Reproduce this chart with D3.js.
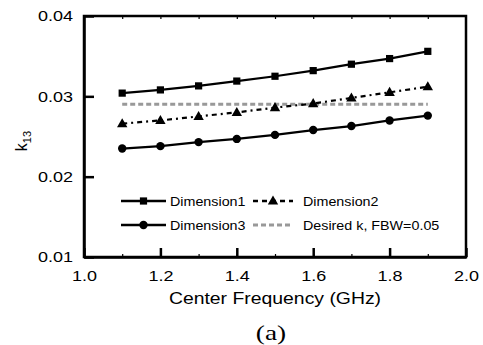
<!DOCTYPE html>
<html>
<head>
<meta charset="utf-8">
<script src="https://cdn.jsdelivr.net/npm/d3@7"></script>
<style>
  body { margin: 0; background: #fff; }
  svg { display: block; }
  text { font-family: "Liberation Sans", Arial, sans-serif; fill: #000; }
</style>
</head>
<body>
<div id="chart"></div>
<script>
// data
var freqs = [1.1, 1.2, 1.3, 1.4, 1.5, 1.6, 1.7, 1.8, 1.9];
var dim1 = [0.0304, 0.0308, 0.0313, 0.0319, 0.0325, 0.0332, 0.0340, 0.0347, 0.0356];
var dim2 = [0.0266, 0.0270, 0.0275, 0.0280, 0.0286, 0.0291, 0.0298, 0.0305, 0.0312];
var dim3 = [0.0235, 0.0238, 0.0243, 0.0247, 0.0252, 0.0258, 0.0263, 0.0270, 0.0276];
var desiredK = 0.029;
var desiredRange = [1.1, 1.9];
var xTicks = [1.0, 1.2, 1.4, 1.6, 1.8, 2.0];
var xMinor = [1.1, 1.2, 1.3, 1.4, 1.5, 1.6, 1.7, 1.8, 1.9];
var yTicks = [0.01, 0.02, 0.03, 0.04];

var series = [
  {name: "Dimension1", values: dim1, marker: "square", dash: null},
  {name: "Dimension2", values: dim2, marker: "triangle", dash: "5,4,2,4"},
  {name: "Dimension3", values: dim3, marker: "circle", dash: null}
];

var FONT = "'Liberation Sans', Arial, sans-serif";

var margin = {top: 16, right: 17, bottom: 88, left: 84};
var width = 483 - margin.left - margin.right;
var height = 345 - margin.top - margin.bottom;

var svg = d3.select("#chart").append("svg")
    .attr("width", 483)
    .attr("height", 345);

var g = svg.append("g")
    .attr("transform", "translate(" + margin.left + "," + margin.top + ")");

var x = d3.scaleLinear().domain([1.0, 2.0]).range([0, width]);
var y = d3.scaleLinear().domain([0.01, 0.04]).range([height, 0]);

// horizontally widen text a bit, the reference glyphs are stretched
function stretch(sel, k) {
  sel.each(function() {
    var w = this.getComputedTextLength();
    d3.select(this).attr("textLength", w * k).attr("lengthAdjust", "spacingAndGlyphs");
  });
}

// minor ticks top and bottom
g.append("g")
    .call(d3.axisTop(x).tickValues(xMinor).tickSize(-3).tickFormat(""))
    .call(function(a) { a.select(".domain").remove(); })
    .selectAll("line").attr("stroke-width", 1.2);

g.append("g")
    .attr("transform", "translate(0," + height + ")")
    .call(d3.axisBottom(x).tickValues(xMinor).tickSize(-3).tickFormat(""))
    .call(function(a) { a.select(".domain").remove(); })
    .selectAll("line").attr("stroke-width", 1.2);

// frame
g.append("rect")
    .attr("width", width)
    .attr("height", height)
    .attr("fill", "none")
    .attr("stroke", "#000")
    .attr("stroke-width", 2.5);

var xAxis = g.append("g")
    .attr("transform", "translate(0," + height + ")")
    .call(d3.axisBottom(x).tickValues(xTicks).tickSizeInner(-9).tickSizeOuter(0).tickPadding(13)
      .tickFormat(d3.format(".1f")));

var yAxis = g.append("g")
    .call(d3.axisLeft(y).tickValues(yTicks).tickSizeInner(-10).tickSizeOuter(0).tickPadding(11)
      .tickFormat(d3.format(".2f")));

[xAxis, yAxis].forEach(function(a) {
  a.attr("font-family", FONT);
  a.select(".domain").attr("stroke-width", 2.5);
  a.selectAll(".tick line").attr("stroke-width", 2.5);
  a.selectAll(".tick text")
      .style("font-family", FONT)
      .style("font-size", "15.5px")
      .attr("fill", "#000")
      .call(stretch, 1.16);
});

// desired k line
g.append("line")
    .attr("x1", x(desiredRange[0]))
    .attr("x2", x(desiredRange[1]))
    .attr("y1", y(desiredK))
    .attr("y2", y(desiredK))
    .attr("stroke", "#999")
    .attr("stroke-width", 3)
    .attr("stroke-dasharray", "5,3");

var line = d3.line()
    .x(function(d, i) { return x(freqs[i]); })
    .y(function(d) { return y(d); });

function drawMarker(sel, type, cx, cy) {
  if (type == "square") {
    sel.append("rect")
        .attr("x", cx - 3.6).attr("y", cy - 3.6)
        .attr("width", 7.2).attr("height", 7.2)
        .attr("fill", "#000");
  }
  else if (type == "circle") {
    sel.append("circle")
        .attr("cx", cx).attr("cy", cy).attr("r", 4.2)
        .attr("fill", "#000");
  }
  else {
    sel.append("path")
        .attr("d", "M" + cx + "," + (cy - 5.5) + "L" + (cx + 5.2) + "," + (cy + 3.6) + "L" + (cx - 5.2) + "," + (cy + 3.6) + "Z")
        .attr("fill", "#000");
  }
}

series.forEach(function(s) {
  g.append("path")
      .datum(s.values)
      .attr("d", line)
      .attr("fill", "none")
      .attr("stroke", "#000")
      .attr("stroke-width", 2.2)
      .attr("stroke-dasharray", s.dash);
  var mg = g.append("g");
  s.values.forEach(function(v, i) {
    drawMarker(mg, s.marker, x(freqs[i]), y(v));
  });
});

// legend
var legendItems = [
  {label: "Dimension1", marker: "square", dash: null, color: "#000", x0: 37, x1: 82, tx: 86, row: 0},
  {label: "Dimension2", marker: "triangle", dash: "5,4", color: "#000", x0: 169, x1: 209, tx: 219, row: 0},
  {label: "Dimension3", marker: "circle", dash: null, color: "#000", x0: 37, x1: 82, tx: 86, row: 1},
  {label: "Desired k, FBW=0.05", marker: null, dash: "5,3", color: "#999", x0: 169, x1: 209, tx: 219, row: 1}
];

var legend = g.append("g").attr("transform", "translate(0,185)");

legendItems.forEach(function(d) {
  var ly = d.row * 24;
  legend.append("line")
      .attr("x1", d.x0).attr("x2", d.x1)
      .attr("y1", ly).attr("y2", ly)
      .attr("stroke", d.color)
      .attr("stroke-width", d.color == "#999" ? 3 : 2.5)
      .attr("stroke-dasharray", d.dash);
  if (d.marker) {
    drawMarker(legend, d.marker, (d.x0 + d.x1) / 2, ly);
  }
  legend.append("text")
      .attr("x", d.tx)
      .attr("y", ly + 5)
      .style("font-family", FONT)
      .style("font-size", "13px")
      .text(d.label)
      .call(stretch, 1.1);
});

// axis titles
svg.append("text")
    .attr("x", margin.left + width / 2)
    .attr("y", 304)
    .attr("text-anchor", "middle")
    .style("font-family", FONT)
    .style("font-size", "17px")
    .text("Center Frequency (GHz)")
    .call(stretch, 1.14);

var yl = svg.append("text")
    .attr("transform", "translate(27,141) rotate(-90)")
    .attr("text-anchor", "middle")
    .style("font-family", FONT)
    .style("font-size", "16px");
yl.append("tspan").text("k");
yl.append("tspan").attr("dy", 4).style("font-size", "11px").text("13");

svg.append("text")
    .attr("x", 271)
    .attr("y", 340)
    .attr("text-anchor", "middle")
    .style("font-family", "'Liberation Serif', 'Times New Roman', serif")
    .style("font-size", "21px")
    .text("(a)")
    .call(stretch, 1.3);
</script>
</body>
</html>
